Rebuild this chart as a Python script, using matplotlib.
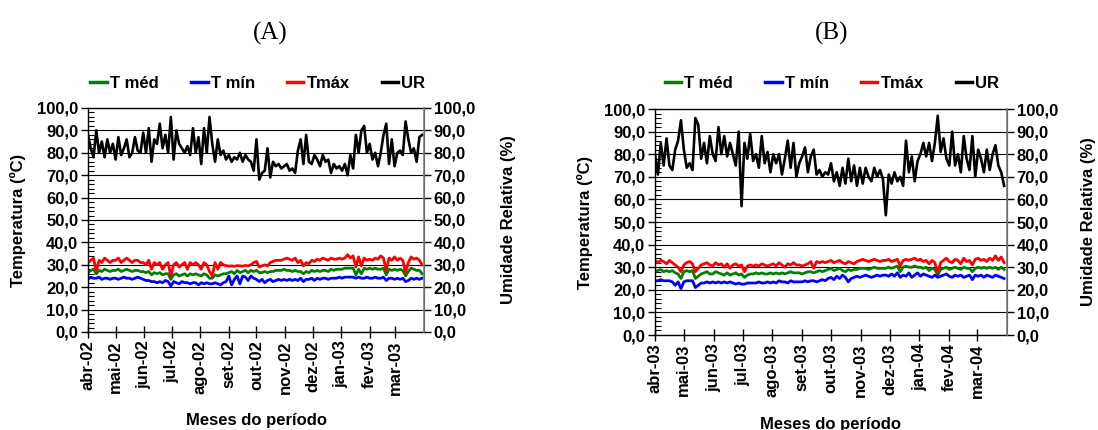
import matplotlib.pyplot as plt
import matplotlib.ticker as mticker
import matplotlib.lines as mlines
import pandas as pd

plt.rcParams['font.family'] = ['Liberation Sans', 'DejaVu Sans']
plt.rcParams['font.weight'] = 'bold'
plt.rcParams['font.size'] = 12

# ---- Período A: abr/2002 a mar/2003 (valores a cada 3 dias) ----
meses_a = ['abr-02', 'mai-02', 'jun-02', 'jul-02', 'ago-02', 'set-02',
           'out-02', 'nov-02', 'dez-02', 'jan-03', 'fev-03', 'mar-03']

ur_a = [88, 82, 78, 90, 80, 85, 78, 86, 80, 84,
        77, 87, 79, 82, 86, 78, 80, 87, 81, 80,
        89, 80, 91, 76, 86, 84, 93, 82, 88, 80,
        96, 77, 90, 84, 82, 80, 83, 79, 91, 80,
        87, 75, 91, 80, 96, 84, 76, 86, 79, 81,
        77, 79, 76, 78, 77, 80, 76, 79, 77, 76,
        72, 86, 68, 71, 72, 82, 69, 76, 74, 75,
        73, 74, 75, 72, 73, 71, 81, 86, 75, 88,
        76, 75, 79, 77, 74, 79, 76, 77, 71, 75,
        73, 74, 72, 75, 70, 79, 73, 88, 80, 90,
        92, 80, 84, 77, 80, 74, 80, 88, 93, 75,
        86, 74, 80, 81, 79, 94, 86, 80, 82, 76, 87, 88]

tmax_a = [31, 32, 33, 27, 32, 31, 33, 32, 31, 32,
          32, 33, 31, 32, 33, 32, 31, 32, 32, 31,
          31, 30, 32, 28, 31, 30, 31, 28, 30, 31,
          25, 30, 31, 29, 30, 31, 28, 31, 30, 31,
          30, 28, 31, 30, 27, 25, 31, 28, 31, 30,
          29.6, 29.4, 29.5, 29.3, 29.6, 29.5, 29.4, 29.7, 29.5, 30,
          31, 31.5, 29, 29.5, 30, 29.5, 31, 31.5, 32, 32,
          32, 32.5, 33, 32.5, 32, 33, 31, 32, 29.5, 31,
          30.5, 32, 31.5, 32.5, 32, 33, 32.5, 32, 33, 32.5,
          32.5, 33, 32.5, 33, 34.5, 33, 34, 29, 33.5, 29.5,
          33, 32, 32.5, 32, 33, 32.5, 34, 33, 27.5, 33,
          32, 33.5, 32, 33, 32, 26.5, 31, 33.5, 32.5, 33, 32, 30]

tmed_a = [26.5, 27.5, 28, 26, 27.5, 27, 28, 27.5, 27, 27.5,
          27.5, 28, 27, 27.5, 28, 27.5, 27, 27.5, 27.5, 27,
          27, 26.5, 27, 25.5, 26.5, 26, 26.5, 25.5, 26, 26,
          23.5, 25.5, 26, 25, 25.5, 26, 25, 26, 25.5, 26,
          25.5, 25, 26, 25.5, 24, 24, 25.5, 25, 25.5, 26,
          26, 26.5, 27, 26, 27.5, 26.5, 27, 27.5, 26.5, 27.5,
          27, 27.5, 26.5, 26.5, 27, 26.5, 27, 27, 27.5, 27.5,
          27.5, 28, 27.5, 27.5, 27, 27.5, 27, 27, 26, 27,
          26.5, 27.5, 27, 27.5, 27, 27.5, 27.5, 27, 28, 27.5,
          28, 28, 28, 28.5, 28.5, 28.5, 28.5, 25.5, 28, 26,
          28.5, 28, 28.5, 28, 28.5, 28, 28, 28.5, 25.5, 28,
          27.5, 28, 27.5, 28, 27.5, 25, 27, 28.5, 28, 27.5, 27.5, 26]

tmin_a = [23.5, 24.5, 24, 24, 24.5, 23.5, 24, 24, 23.5, 24,
          24, 23.5, 24, 24.5, 24, 24, 23.5, 24, 24.5, 24,
          23.5, 23, 23, 22.5, 22.5, 22, 22.5, 22, 23, 22.5,
          20.5, 22.5, 22, 21.5, 22.5, 22, 22, 21.5, 22, 22,
          21, 22, 21.5, 22, 21.5, 21.5, 22, 21.5, 21, 22,
          22.5, 25, 21, 23.5, 25, 21.5, 25, 24.5, 23, 25,
          24, 23.5, 22.5, 23.5, 22, 23, 23.5, 22.5, 23, 23.5,
          23, 23.5, 23, 23.5, 23, 23.5, 23, 24, 22.5, 23.5,
          23.5, 24, 23, 24, 23.5, 24, 24, 23.5, 24, 24,
          24, 24.5, 24, 24.5, 24.5, 24.5, 24.5, 24, 24.5, 24,
          24, 24.5, 24, 24, 24.5, 24, 24, 24.5, 23, 24,
          24, 23.5, 24, 23.5, 24, 22.5, 23, 24, 23.5, 24, 23.5, 24]

# ---- Período B: abr/2003 a mar/2004 ----
meses_b = ['abr-03', 'mai-03', 'jun-03', 'jul-03', 'ago-03', 'set-03',
           'out-03', 'nov-03', 'dez-03', 'jan-04', 'fev-04', 'mar-04']

ur_b = [80, 71, 85, 75, 87, 75, 73, 82, 86, 95,
        82, 74, 76, 73, 96, 93, 78, 85, 76, 88,
        80, 77, 92, 80, 88, 79, 85, 80, 75, 90,
        57, 85, 78, 89, 77, 80, 74, 88, 76, 81,
        72, 80, 76, 80, 71, 78, 86, 74, 85, 70,
        76, 79, 83, 72, 79, 82, 71, 73, 70, 72,
        71, 76, 68, 72, 66, 74, 67, 78, 68, 75,
        66, 74, 67, 74, 70, 68, 74, 70, 73, 69,
        53, 71, 67, 72, 68, 70, 66, 86, 72, 79,
        68, 77, 80, 85, 79, 85, 77, 85, 97, 81,
        87, 78, 75, 90, 75, 80, 72, 88, 78, 73,
        88, 70, 82, 78, 72, 82, 73, 80, 84, 75, 72, 66]

tmax_b = [33, 32, 33, 32.5, 31.5, 33, 32, 31, 30, 28,
          31, 32, 32.5, 31.5, 28, 29.5, 31, 31.5, 32, 31,
          30.5, 32, 31, 31.5, 30, 31.5, 29.5, 31, 31.5, 30.5,
          31, 28, 30.5, 31, 30.5, 31, 30.5, 31.5, 31, 30.5,
          31, 31.5, 30.5, 32, 31, 30, 31.5, 31, 32, 31,
          31, 30.5, 31, 31.5, 32.5, 29.5, 32.5, 32, 32.5, 32,
          32.5, 33, 32, 32.5, 33, 32, 31.5, 32.5, 32, 31.5,
          32.5, 33, 33.5, 33, 32.5, 33, 33.5, 33, 32.5, 33,
          33, 33.5, 32.5, 33, 33.5, 30.5, 33, 33.5, 33, 33.5,
          34, 33, 33.5, 32.5, 33, 31.5, 33, 32, 27.5, 32,
          33, 34, 32.5, 32, 33.5, 33, 31.5, 34, 32.5, 33,
          31, 33.5, 34, 33, 33.5, 32.5, 34, 33, 35, 33, 34.5, 32]

tmed_b = [28, 28.5, 29, 28, 28.5, 28, 28.5, 27.5, 27, 25,
          28, 28.5, 28, 28.5, 25, 26, 27, 27.5, 28, 27,
          27, 28, 27.5, 27, 26.5, 27.5, 26.5, 27, 27.5, 26.5,
          27, 25.5, 26.5, 27, 27, 27.5, 27, 27.5, 27, 27,
          27.5, 27, 27.5, 27, 27.5, 27, 27.5, 28, 27.5, 27.5,
          27.5, 27, 27.5, 28, 28, 27.5, 28, 28.5, 28, 28.5,
          29, 29.5, 28.5, 29, 29.5, 28.5, 28, 29, 28.5, 29,
          29, 29.5, 29.5, 29.5, 29, 29.5, 30, 29.5, 29.5, 29.5,
          29.5, 30, 29.5, 30, 30.5, 28, 30, 30.5, 30, 30,
          30.5, 30, 30, 29.5, 30, 28.5, 29.5, 29, 26.5, 29,
          29.5, 30, 29, 29.5, 30, 29.5, 29, 30, 29.5, 29.5,
          28, 29.5, 30, 29.5, 30, 29.5, 30, 29.5, 30, 29, 30, 29]

tmin_b = [24, 24, 24.5, 24, 24, 24, 23.5, 22, 23.5, 20.5,
          23.5, 24, 24, 24, 21, 22, 23, 23, 23.5, 23,
          23.5, 23, 23.5, 23, 23.5, 23, 23.5, 23, 22.5, 23,
          22.5, 22.5, 23, 23, 23, 23, 23.5, 23, 23, 23.5,
          23, 23.5, 23, 24, 23.5, 23.5, 23, 24, 23.5, 23.5,
          23.5, 23.5, 24, 23.5, 24, 24, 23.5, 24, 24.5, 24,
          25, 25.5, 24.5, 26, 25, 26.5, 25.5, 23.5, 25, 25.5,
          26, 25.5, 26, 26.5, 26, 25.5, 26, 26.5, 26, 26.5,
          26.5, 26, 27, 26, 27.5, 25.5, 26.5, 26, 27.5, 25.5,
          26.5, 27.5, 26, 27, 26.5, 26, 25.5, 26.5, 25.5, 26,
          26.5, 27, 26, 25.5, 26.5, 26, 26.5, 25.5, 26, 26.5,
          24.5, 26.5, 26, 26.5, 25.5, 26.5, 26, 25.5, 26.5, 26, 25.5, 25]

W, H = 1098, 430
fig = plt.figure(figsize=(W / 100, H / 100), dpi=100)

virgula = mticker.FuncFormatter(lambda v, p: f'{v:.1f}'.replace('.', ','))


def painel(rect, inicio, meses, tmed, tmin, tmax, ur):
    x0, y0, x1, y1 = rect
    ax = fig.add_axes([x0 / W, 1 - y1 / H, (x1 - x0) / W, (y1 - y0) / H])
    ax2 = ax.twinx()

    datas = pd.date_range(inicio, periods=len(ur), freq='3D')
    ax.plot(datas, tmed, color='#008000', lw=2.0)
    ax.plot(datas, tmin, color='#0000FF', lw=2.0)
    ax.plot(datas, tmax, color='#FF0000', lw=2.0)
    ax2.plot(datas, ur, color='black', lw=1.9)

    marcas = pd.date_range(inicio, periods=13, freq='MS')
    ax.set_xlim(marcas[0], marcas[-1])
    ax.set_xticks(marcas[:-1])
    ax.set_xticklabels(meses, rotation=90)
    ax.tick_params(axis='x', direction='inout', length=8, width=1, pad=2)

    for a in (ax, ax2):
        a.set_ylim(0, 100)
        a.yaxis.set_major_locator(mticker.MultipleLocator(10))
        a.yaxis.set_major_formatter(virgula)
        a.tick_params(axis='y', direction='out', length=5, width=1, pad=2)
    ax.yaxis.set_minor_locator(mticker.MultipleLocator(2))
    ax.tick_params(axis='y', which='minor', direction='in', length=4, width=0.8)

    ax.grid(axis='y', color='black', lw=0.8)
    for s in ('left', 'bottom', 'top'):
        ax.spines[s].set_linewidth(1.0)
    ax2.spines['right'].set_color('#808080')
    ax2.spines['right'].set_linewidth(1.2)
    for s in ('left', 'top', 'bottom'):
        ax2.spines[s].set_visible(False)
    return ax


ax_a = painel((88, 108, 424, 332), '2002-04-01', meses_a, tmed_a, tmin_a, tmax_a, ur_a)
ax_b = painel((655, 109, 1007, 335), '2003-04-01', meses_b, tmed_b, tmin_b, tmax_b, ur_b)

rotulos = ['T méd', 'T mín', 'Tmáx', 'UR']
cores = ['#008000', '#0000FF', '#FF0000', 'black']
alcas = [mlines.Line2D([], [], color=c, lw=2.5) for c in cores]
for cx in (258, 832):
    fig.legend(alcas, rotulos, loc='center', bbox_to_anchor=(cx / W, 1 - 83 / H),
               ncol=4, frameon=False, handlelength=1.0, handletextpad=0.2,
               columnspacing=1.9, fontsize=12)

fig.text(270 / W, 1 - 33 / H, '(A)', ha='center', va='center',
         family='Liberation Serif', fontweight='normal', fontsize=18)
fig.text(832 / W, 1 - 33 / H, '(B)', ha='center', va='center',
         family='Liberation Serif', fontweight='normal', fontsize=18)

for x, y in ((18, 220), (585, 222)):
    fig.text(x / W, 1 - y / H, 'Temperatura (ºC)', rotation=90, ha='center', va='center')
for x, y in ((508, 220), (1088, 222)):
    fig.text(x / W, 1 - y / H, 'Umidade Relativa (%)', rotation=90, ha='center', va='center')
fig.text(256 / W, 1 - 420 / H, 'Meses do período', ha='center', va='center')
fig.text(831 / W, 1 - 424 / H, 'Meses do período', ha='center', va='center')

fig.savefig('out.png', dpi=100)
